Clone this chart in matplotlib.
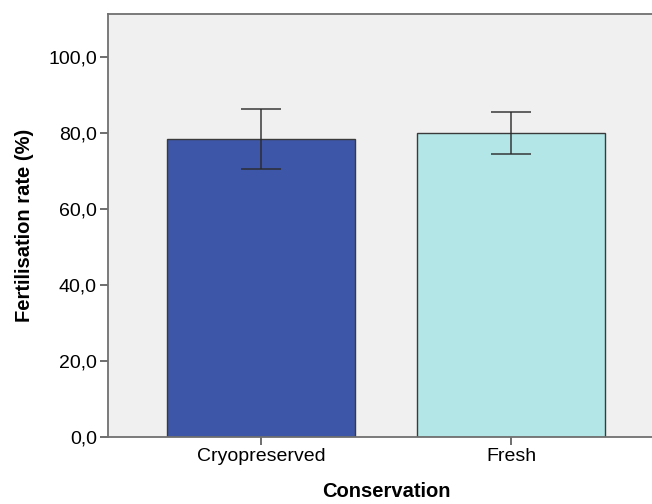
import matplotlib.pyplot as plt
import numpy as np

# Daten
categories = ['Cryopreserved', 'Fresh']
means = [78.3, 79.9]
err_low = [70.4, 74.5]
err_high = [86.2, 85.5]
bar_colors = ['#3D56A8', '#B3E6E7']
y_ticks = [0, 20, 40, 60, 80, 100]

plt.rcParams['font.family'] = ['Liberation Sans', 'DejaVu Sans']

fig = plt.figure(figsize=(6.52, 5.04), dpi=100)
# Achsenbereich (rechts über den Bildrand hinaus, wie im Original)
ax = fig.add_axes([108 / 652, (504 - 437) / 504, (664 - 108) / 652, (437 - 14) / 504])
ax.set_facecolor('#F0F0F0')

x = np.arange(len(categories))
yerr = [np.array(means) - np.array(err_low), np.array(err_high) - np.array(means)]
ax.bar(x, means, width=0.752, color=bar_colors, edgecolor='#3a3a3a', linewidth=1.0, zorder=2)
ax.errorbar(x, means, yerr=yerr, fmt='none', ecolor='#2a2a2a', elinewidth=1.2,
            capsize=14.4, capthick=1.2, zorder=3, alpha=0.85)

ax.set_xlim(-0.612, 1.612)
ax.set_ylim(0, 111.3)
ax.set_xticks(x)
ax.set_xticklabels(categories, fontsize=14)
ax.set_yticks(y_ticks)
ax.set_yticklabels([f'{v:.1f}'.replace('.', ',') for v in y_ticks], fontsize=14)

for side in ['left', 'bottom', 'top', 'right']:
    ax.spines[side].set_color('#707070')
    ax.spines[side].set_linewidth(1.3)
ax.tick_params(axis='both', direction='out', length=6, width=1.2, color='#555555', pad=2)

ax.set_xlabel('Conservation', fontsize=14.5, fontweight='bold', labelpad=12)
ax.set_ylabel('Fertilisation rate (%)', fontsize=14.5, fontweight='bold', labelpad=10)

fig.savefig('out.png', dpi=100)
